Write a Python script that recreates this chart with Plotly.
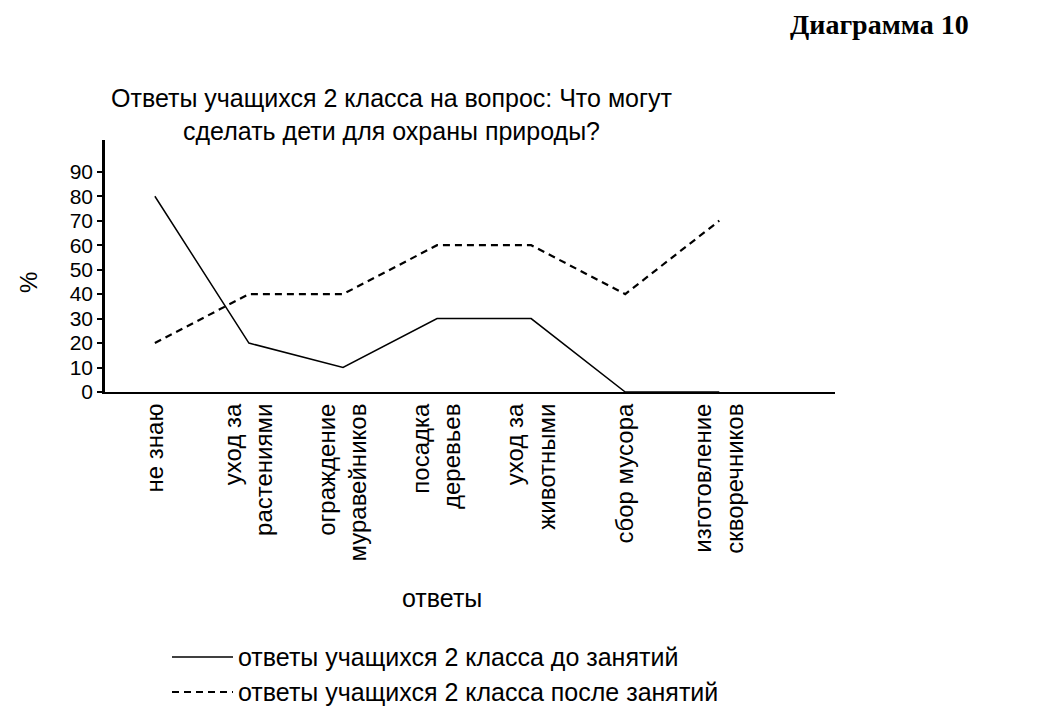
import plotly.graph_objects as go

categories = ["не знаю", "уход за<br>растениями", "ограждение<br>муравейников",
              "посадка<br>деревьев", "уход за<br>животными", "сбор мусора",
              "изготовление<br>скворечников"]
before = [80, 20, 10, 30, 30, 0, 0]
after = [20, 40, 40, 60, 60, 40, 70]
y_ticks = [0, 10, 20, 30, 40, 50, 60, 70, 80, 90]
series_names = ["ответы учащихся 2 класса до занятий",
                "ответы учащихся 2 класса после занятий"]

x_idx = list(range(len(categories)))
font = "Liberation Sans, Arial, sans-serif"

fig = go.Figure()
fig.add_trace(go.Scatter(x=x_idx, y=before, mode="lines", name=series_names[0],
                         line=dict(color="black", width=1.5), showlegend=False))
fig.add_trace(go.Scatter(x=x_idx, y=after, mode="lines", name=series_names[1],
                         line=dict(color="black", width=2.2, dash="7px,5px"), showlegend=False))

fig.update_layout(
    width=1064, height=724,
    paper_bgcolor="white", plot_bgcolor="white",
    margin=dict(l=105, r=229, t=140, b=332),
    font=dict(family=font, color="black", size=18),
    xaxis=dict(range=[-0.53, 7.23], tickmode="array", tickvals=x_idx,
               ticktext=categories, tickangle=-90, showgrid=False, zeroline=False,
               showline=True, linecolor="black", linewidth=2, ticks="",
               tickfont=dict(size=24, family=font)),
    yaxis=dict(range=[0, 103], tickmode="array", tickvals=y_ticks,
               ticktext=[str(v) for v in y_ticks], showgrid=False, zeroline=False,
               showline=True, linecolor="black", linewidth=2.5, ticks="outside",
               ticklen=5, tickwidth=2, tickcolor="black",
               tickfont=dict(size=21, family=font)),
)

# Title
fig.add_annotation(text="Ответы учащихся 2 класса на вопрос: Что могут<br>сделать дети для охраны природы?",
                   xref="paper", yref="paper", x=(392 - 105) / 730, y=1 + (140 - 115) / 252,
                   showarrow=False, xanchor="center", yanchor="middle",
                   font=dict(size=25, family=font))
# Diagram number
fig.add_annotation(text="<b>Диаграмма 10</b>", xref="paper", yref="paper",
                   x=(971 - 105) / 730, y=1 + (140 - 24) / 252, showarrow=False,
                   xanchor="right", yanchor="middle",
                   font=dict(size=28, family="Liberation Serif, Times New Roman, serif"))
# Y title
fig.add_annotation(text="%", xref="paper", yref="paper", x=(28 - 105) / 730,
                   y=(392 - 283) / 252, showarrow=False, textangle=-90,
                   xanchor="center", yanchor="middle", font=dict(size=24, family=font))
# X title
fig.add_annotation(text="ответы", xref="paper", yref="paper", x=(442 - 105) / 730,
                   y=-(598 - 392) / 252, showarrow=False, xanchor="center",
                   yanchor="middle", font=dict(size=25, family=font))
# Legend
for i, (name, dash) in enumerate(zip(series_names, ["solid", "7px,5px"])):
    yy = [657, 692][i]
    ypap = -(yy - 392) / 252
    fig.add_shape(type="line", xref="paper", yref="paper",
                  x0=(172 - 105) / 730, x1=(233 - 105) / 730, y0=ypap, y1=ypap,
                  line=dict(color="black", width=1.5 if dash == "solid" else 2, dash=dash))
    fig.add_annotation(text=name, xref="paper", yref="paper", x=(236 - 105) / 730,
                       y=ypap, showarrow=False, xanchor="left", yanchor="middle",
                       font=dict(size=25, family=font))

fig.write_html("out.html")
